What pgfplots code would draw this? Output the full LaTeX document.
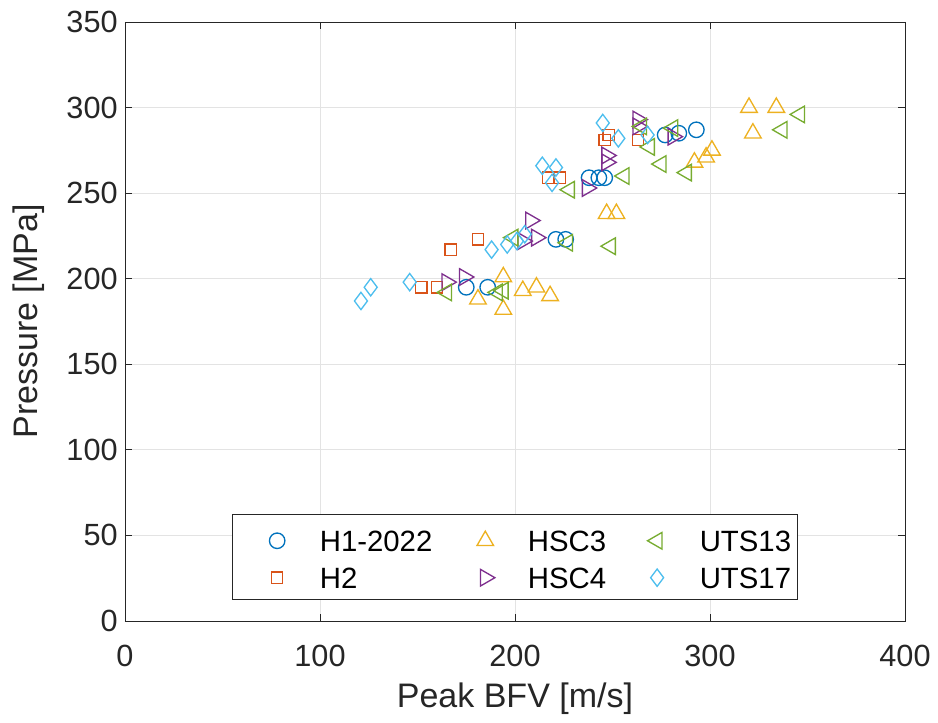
\documentclass[border=0pt]{standalone}
\usepackage{pgfplots}
\pgfplotsset{compat=1.18}
\usepackage{fontspec}
\setmainfont{Liberation Sans}
\definecolor{c1}{rgb}{0,0.447,0.741}
\definecolor{c2}{rgb}{0.85,0.325,0.098}
\definecolor{c3}{rgb}{0.929,0.694,0.125}
\definecolor{c4}{rgb}{0.494,0.184,0.556}
\definecolor{c5}{rgb}{0.466,0.674,0.188}
\definecolor{c6}{rgb}{0.301,0.745,0.933}
\definecolor{axc}{rgb}{0.15,0.15,0.15}
\begin{document}
\begin{tikzpicture}
\useasboundingbox (-93.75pt,-75.75pt) rectangle (609.75pt,465.75pt);
\begin{axis}[
  at={(0pt,0pt)}, anchor=south west,
  scale only axis,
  width=585pt, height=449.25pt,
  xmin=0, xmax=400, ymin=0, ymax=350,
  xtick={0,100,...,400}, ytick={0,50,...,350},
  grid=major,
  major grid style={color=black!11, line width=0.6pt},
  axis line style={color=axc, line width=0.7pt},
  tick style={color=axc, line width=0.7pt},
  tick align=inside,
  major tick length=5pt,
  /pgf/number format/assume math mode=true,
  ticklabel style={font=\fontsize{23}{27}\selectfont, color=axc},
  xticklabel style={yshift=-14.5pt},
  yticklabel style={xshift=-2pt},
  xlabel={Peak BFV [m/s]}, ylabel={Pressure [MPa]},
  label style={font=\fontsize{25.5}{30}\selectfont, color=axc},
  xlabel style={at={(axis description cs:0.5,-0.1436)}, anchor=base},
  ylabel style={at={(axis description cs:-0.1128,0.5)}, anchor=base, rotate=0},
  every axis plot/.append style={only marks, line width=1pt},
  legend columns=3,
  legend image code/.code={%
    \path[draw=none,fill=none] (-16.7pt,-1pt) rectangle (24pt,20pt);
    \draw[#1] plot coordinates {(12pt,7.9pt)};},
  legend style={at={(axis description cs:0.5,0.035)}, anchor=south, draw=axc, line width=0.7pt,
    font=\fontsize{22}{26}\selectfont, inner xsep=5pt, inner ysep=7.5pt,
    nodes={inner sep=0pt, text height=20pt, text depth=1pt, anchor=base west},
    row sep=6.7pt,
    /tikz/column 1/.style={column sep=20pt},
    /tikz/column 2/.style={column sep=11pt},
    /tikz/column 3/.style={column sep=20pt},
    /tikz/column 4/.style={column sep=9.5pt},
    /tikz/column 5/.style={column sep=20pt}},
  legend cell align=left,
]
\addplot[c1, mark=o, mark size=5.8pt, forget plot] coordinates {
(175,195)(186,195)(221,223)(226,223)(238,259)(243,259)(246,259)(277,284)(284,285)(293,287)};
\addplot[c2, mark=square, mark size=4.2pt, forget plot] coordinates {
(152,195)(160,195)(167,217)(181,223)(217,259)(223,259)(246,281)(248,284)(263,281)};
\addplot[c3, mark=triangle, mark size=7.2pt, forget plot] coordinates {
(181,188)(194,201)(194,182)(204,193)(211,195)(218,190)(247,238)(252,238)(292,268)(298,271)(301,275)(320,300)(322,285)(334,300)};
\addplot[c4, mark=triangle, mark size=7.2pt, mark options={rotate=-90}, forget plot] coordinates {
(165,198)(174,201)(204,222)(208,234)(211,224)(237,253)(247,272)(247,268)(263,293)(263,289)(281,283)};
\addplot[c5, mark=triangle, mark size=7.2pt, mark options={rotate=90}, forget plot] coordinates {
(165,192)(191,192)(194,193)(199,224)(227,221)(228,252)(249,219)(256,260)(265,289)(269,277)(275,267)(281,288)(288,262)(337,287)(346,296)};
\addplot[c6, mark=diamond, mark size=6.5pt, forget plot] coordinates {
(121,187)(126,195)(146,198)(188,217)(196,220)(201,222)(205,226)(214,266)(221,265)(219,256)(245,291)(253,282)(268,284)};
\addlegendimage{only marks, c1, mark=o, mark size=5.8pt, line width=1pt}
\addlegendentry{H1-2022}
\addlegendimage{only marks, c3, mark=triangle, mark size=7.2pt, line width=1pt}
\addlegendentry{HSC3}
\addlegendimage{only marks, c5, mark=triangle, mark size=7.2pt, mark options={rotate=90}, line width=1pt}
\addlegendentry{UTS13}
\addlegendimage{only marks, c2, mark=square, mark size=4.2pt, line width=1pt}
\addlegendentry{H2}
\addlegendimage{only marks, c4, mark=triangle, mark size=7.2pt, mark options={rotate=-90}, line width=1pt}
\addlegendentry{HSC4}
\addlegendimage{only marks, c6, mark=diamond, mark size=6.5pt, line width=1pt}
\addlegendentry{UTS17}
\end{axis}
\end{tikzpicture}
\end{document}
